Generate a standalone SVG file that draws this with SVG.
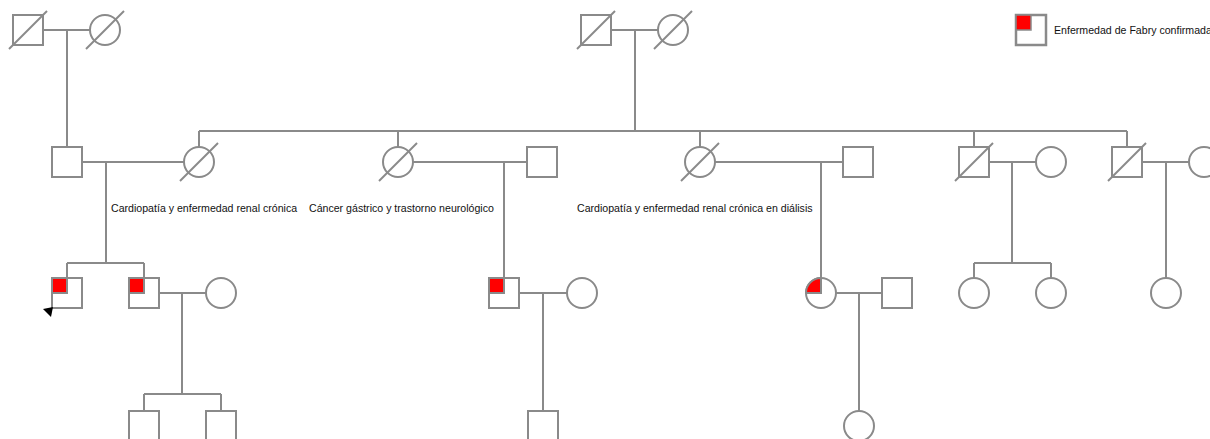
<svg xmlns="http://www.w3.org/2000/svg" width="1210" height="439" viewBox="0 0 1210 439">
<defs>
<style>
.ln{stroke:#8a8a8a;stroke-width:2;fill:none}
.sh{stroke:#8a8a8a;stroke-width:2;fill:#fff}
.af{stroke:#8a8a8a;stroke-width:2;fill:#f00}
.dz{stroke:#8a8a8a;stroke-width:2}
text{font-family:"Liberation Sans",Arial,sans-serif;font-size:10.6px;fill:#111}
</style>
</defs>
<rect width="1210" height="439" fill="#fff"/>
<g id="connectors" class="ln">
<path d="M43 30H90M67 30V147"/>
<path d="M611 30H658M635 30V131"/>
<path d="M199 131H1127M199 131V147M398 131V147M700 131V147M974 131V147M1127 131V147"/>
<path d="M82 162H184M106 162V263M67 263H144M67 263V278M144 263V278"/>
<path d="M413 162H527M504 162V278"/>
<path d="M715 162H843M821 162V279"/>
<path d="M989 162H1036M1012 162V263M974 263H1051M974 263V278M1051 263V278"/>
<path d="M1142 162H1189M1166 162V278"/>
<path d="M159 293H206M182 293V394M144 394H221M144 394V411M221 394V411"/>
<path d="M519 293H567M543 293V411"/>
<path d="M836 293H882M859 293V411"/>
</g>
<g id="I1"><rect class="sh" x="13" y="15" width="30" height="30"/><line class="dz" x1="9" y1="49" x2="47" y2="11"/></g>
<g id="I2"><circle class="sh" cx="105" cy="30" r="15"/><line class="dz" x1="86" y1="49" x2="124" y2="11"/></g>
<g id="I3"><rect class="sh" x="581" y="15" width="30" height="30"/><line class="dz" x1="577" y1="49" x2="615" y2="11"/></g>
<g id="I4"><circle class="sh" cx="673" cy="30" r="15"/><line class="dz" x1="654" y1="49" x2="692" y2="11"/></g>
<g id="II1"><rect class="sh" x="52" y="147" width="30" height="30"/></g>
<g id="II2"><circle class="sh" cx="199" cy="162" r="15"/><line class="dz" x1="180" y1="181" x2="218" y2="143"/></g>
<g id="II3"><circle class="sh" cx="398" cy="162" r="15"/><line class="dz" x1="379" y1="181" x2="417" y2="143"/></g>
<g id="II4"><rect class="sh" x="527" y="147" width="30" height="30"/></g>
<g id="II5"><circle class="sh" cx="700" cy="162" r="15"/><line class="dz" x1="681" y1="181" x2="719" y2="143"/></g>
<g id="II6"><rect class="sh" x="843" y="147" width="30" height="30"/></g>
<g id="II7"><rect class="sh" x="959" y="147" width="30" height="30"/><line class="dz" x1="955" y1="181" x2="993" y2="143"/></g>
<g id="II8"><circle class="sh" cx="1051" cy="162" r="15"/></g>
<g id="II9"><rect class="sh" x="1112" y="147" width="30" height="30"/><line class="dz" x1="1108" y1="181" x2="1146" y2="143"/></g>
<g id="II10"><circle class="sh" cx="1204" cy="162" r="15"/></g>
<g id="III1"><rect class="sh" x="52" y="278" width="30" height="30"/><rect class="af" x="52" y="278" width="15" height="15"/><polygon points="53,307 43,309 51,317" fill="#000"/></g>
<g id="III2"><rect class="sh" x="129" y="278" width="30" height="30"/><rect class="af" x="129" y="278" width="15" height="15"/></g>
<g id="III3"><circle class="sh" cx="221" cy="293" r="15"/></g>
<g id="III4"><rect class="sh" x="489" y="278" width="30" height="30"/><rect class="af" x="489" y="278" width="15" height="15"/></g>
<g id="III5"><circle class="sh" cx="582" cy="293" r="15"/></g>
<g id="III6"><circle class="sh" cx="821" cy="293" r="15"/><path class="af" d="M821 293V278A15 15 0 0 0 806 293Z"/></g>
<g id="III7"><rect class="sh" x="882" y="278" width="30" height="30"/></g>
<g id="III8"><circle class="sh" cx="974" cy="293" r="15"/></g>
<g id="III9"><circle class="sh" cx="1051" cy="293" r="15"/></g>
<g id="III10"><circle class="sh" cx="1166" cy="293" r="15"/></g>
<g id="IV1"><rect class="sh" x="129" y="411" width="30" height="30"/></g>
<g id="IV2"><rect class="sh" x="206" y="411" width="30" height="30"/></g>
<g id="IV3"><rect class="sh" x="528" y="411" width="30" height="30"/></g>
<g id="IV4"><circle class="sh" cx="859" cy="426" r="15"/></g>
<g id="labels">
<text x="111" y="212">Cardiopatía y enfermedad renal crónica</text>
<text x="309" y="212">Cáncer gástrico y trastorno neurológico</text>
<text x="577" y="212">Cardiopatía y enfermedad renal crónica en diálisis</text>
</g>
<g id="legend">
<rect x="1016" y="15" width="30" height="30" fill="#fff" stroke="#8a8a8a" stroke-width="2.5"/>
<rect x="1016" y="15" width="15" height="15" fill="#f00" stroke="#8a8a8a" stroke-width="1.5"/>
<text x="1054" y="34">Enfermedad de Fabry confirmada</text>
</g>
</svg>
